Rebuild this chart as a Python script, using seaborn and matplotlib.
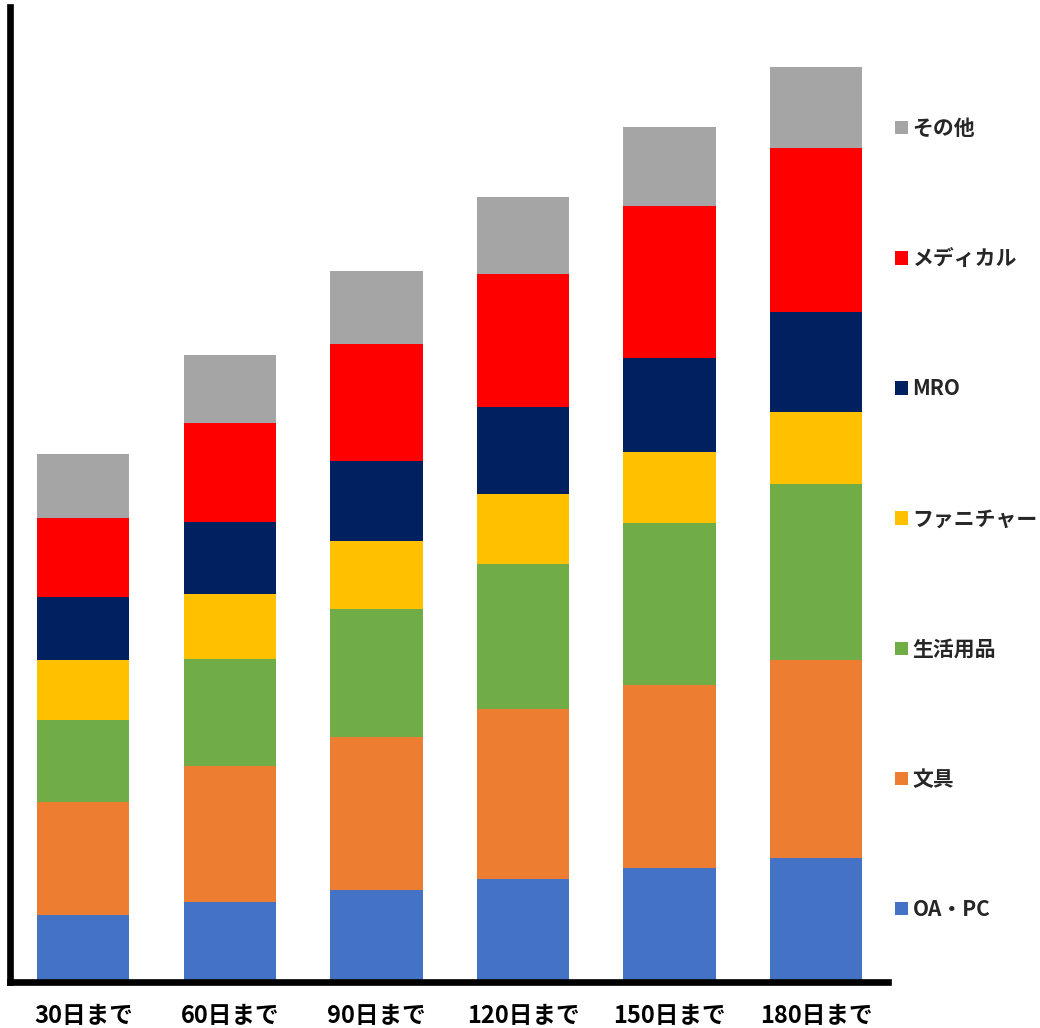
import matplotlib
matplotlib.use("Agg")
import matplotlib.pyplot as plt
from matplotlib.patches import Patch
import seaborn as sns
import numpy as np
import pandas as pd

# Periods on the x axis
periods = ["30日まで", "60日まで", "90日まで", "120日まで", "150日まで", "180日まで"]

# Stacked series, bottom to top
oa_pc = [66.5, 79.5, 91.5, 102.5, 113.2, 123.5]
bungu = [113, 136, 153, 170, 183.3, 197.7]
seikatsu = [82.3, 107, 128, 144.7, 162.3, 176.3]
furniture = [60, 65, 68, 70, 71, 72.3]
mro = [62.4, 71.7, 79.7, 87, 93.4, 100]
medical = [79.6, 99.3, 117.6, 133.6, 152.6, 164]
sonota = [63.4, 68, 72.7, 76.4, 79, 81]

series_names = ["OA・PC", "文具", "生活用品", "ファニチャー", "MRO", "メディカル", "その他"]
series_values = [oa_pc, bungu, seikatsu, furniture, mro, medical, sonota]
series_colors = ["#4472C4", "#ED7D31", "#70AD47", "#FFC000", "#002060", "#FF0000", "#A5A5A5"]

sns.set_theme(style="white")
plt.rcParams["font.family"] = ["Noto Sans CJK JP", "DejaVu Sans"]

fig = plt.figure(figsize=(10.4, 10.28), dpi=100)
ax = fig.add_axes([10 / 1040, 1 - 981.5 / 1028, (888 - 10) / 1040, (981.5 - 7) / 1028])

# cumulative totals; draw tallest first so each lower segment overlays it
cum = np.cumsum(np.array(series_values), axis=0)
for i in range(len(series_names) - 1, -1, -1):
    df = pd.DataFrame({"period": periods, "value": cum[i]})
    sns.barplot(data=df, x="period", y="value", color=series_colors[i],
                saturation=1, width=0.63, ax=ax, linewidth=0)

order = list(range(len(series_names) - 1, -1, -1))
handles = [Patch(facecolor=series_colors[i], edgecolor="none") for i in order]
labels = [series_names[i] for i in order]

ax.set_xlim(-0.5, 5.49)
ax.set_ylim(0, 974.5)
ax.set_xlabel("")
ax.set_ylabel("")
ax.set_yticks([])
ax.tick_params(axis="x", length=0, pad=16)
for lbl in ax.get_xticklabels():
    lbl.set_fontsize(17)
    lbl.set_fontweight("bold")
    lbl.set_color("black")

for side in ["top", "right"]:
    ax.spines[side].set_visible(False)
for side in ["left", "bottom"]:
    ax.spines[side].set_visible(True)
    ax.spines[side].set_color("black")
    ax.spines[side].set_linewidth(4.8)

fig.legend(handles, labels, loc="upper left", bbox_to_anchor=(895 / 1040, 1 - 118 / 1028),
           frameon=False, prop={"size": 15, "weight": "bold"},
           handlelength=0.62, handleheight=0.62, handletextpad=0.22,
           labelspacing=5.24, borderaxespad=0, borderpad=0)

fig.savefig("out.png", dpi=100)
